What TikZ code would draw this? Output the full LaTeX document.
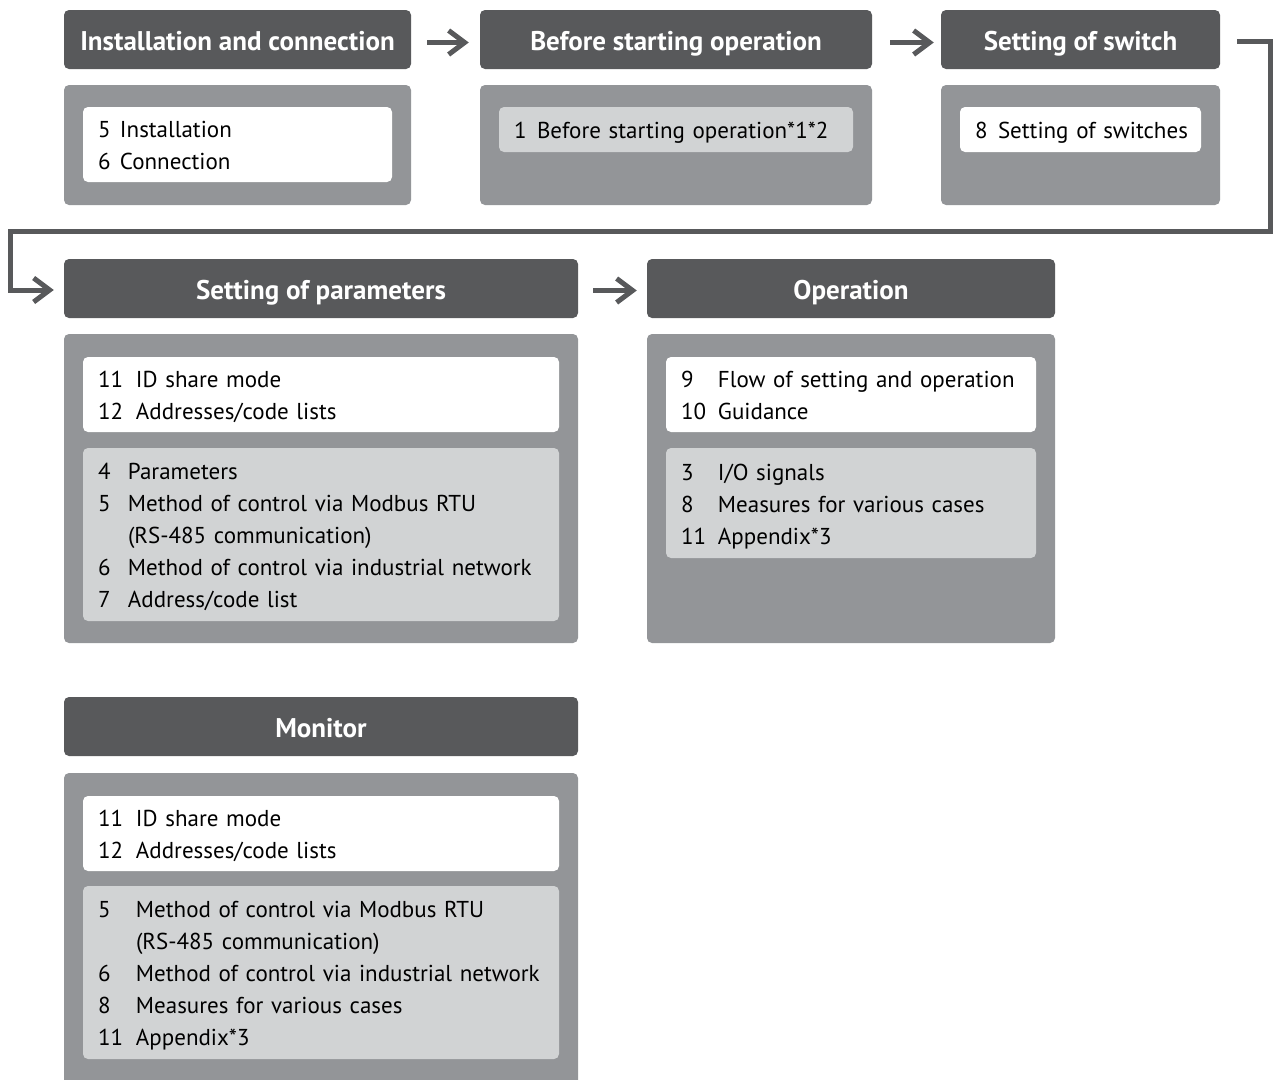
\documentclass[tikz,border=0pt]{standalone}
\usepackage{fontspec}
\setmainfont{PT Sans}
\usetikzlibrary{arrows.meta,positioning}

\definecolor{darkbar}{HTML}{58595B}
\definecolor{midbox}{HTML}{939598}
\definecolor{lightbox}{HTML}{D1D3D4}

\tikzset{
  head/.style={fill=darkbar, rounded corners=5pt, text=white, inner sep=0pt,
    minimum height=59pt, text height=21pt, text depth=0pt,
    font=\fontsize{27}{30}\selectfont\bfseries},
  body/.style={fill=midbox, rounded corners=5pt, inner sep=0pt},
  sheet/.style={rounded corners=5pt, inner xsep=15pt, inner ysep=0pt,
    align=left, text height=18pt, font=\fontsize{23}{32}\selectfont},
  flow/.style={draw=darkbar, line width=5pt, -{Straight Barb[length=16pt,width=24pt]}},
}

\begin{document}
\begin{tikzpicture}[x=1pt,y=-1pt]
\useasboundingbox (0,0) rectangle (1274,1079);

% headers
\node[head, minimum width=347pt] (inst) at (237.5,39.5) {Installation and connection};
\node[head, minimum width=392pt] (before) at (676,39.5) {Before starting operation};
\node[head, minimum width=279pt] (switch) at (1080.5,39.5) {Setting of switch};
\node[head, minimum width=514pt] (param) at (321,288.5) {Setting of parameters};
\node[head, minimum width=408pt] (oper) at (851,288.5) {Operation};
\node[head, minimum width=514pt] (monitor) at (321,726.5) {Monitor};

% grey bodies
\node[body, minimum width=347pt, minimum height=120pt] (instbody) at (237.5,145) {};
\node[body, minimum width=392pt, minimum height=120pt] (beforebody) at (676,145) {};
\node[body, minimum width=279pt, minimum height=120pt] (switchbody) at (1080.5,145) {};
\node[body, minimum width=514pt, minimum height=309pt] (parambody) at (321,488.5) {};
\node[body, minimum width=408pt, minimum height=309pt] (operbody) at (851,488.5) {};
\node[body, minimum width=514pt, minimum height=317pt] (monitorbody) at (321,931.5) {};

% lists
\node[sheet, fill=white, text width=279pt, minimum height=75pt, text depth=32pt] (instlist) at (237.5,144.5)
  {\begin{tabular}[t]{@{}p{22pt}@{}l@{}}5 & Installation\\ 6 & Connection\end{tabular}};
\node[sheet, fill=lightbox, text width=324pt, minimum height=45pt, text depth=0pt] (beforelist) at (676,129.5)
  {\begin{tabular}[t]{@{}p{23pt}@{}l@{}}1 & Before starting operation*1*2\end{tabular}};
\node[sheet, fill=white, text width=211pt, minimum height=45pt, text depth=0pt] (switchlist) at (1080.5,129.5)
  {\begin{tabular}[t]{@{}p{23pt}@{}l@{}}8 & Setting of switches\end{tabular}};

\node[sheet, fill=white, text width=446pt, minimum height=75pt, text depth=32pt] (paramlist) at (321,394.5)
  {\begin{tabular}[t]{@{}p{38pt}@{}l@{}}11 & ID share mode\\ 12 & Addresses/code lists\end{tabular}};
\node[sheet, fill=lightbox, text width=446pt, minimum height=173pt, text depth=128pt] (paramref) at (321,534.5)
  {\begin{tabular}[t]{@{}p{30pt}@{}l@{}}4 & Parameters\\ 5 & Method of control via Modbus RTU\\
   & (RS-485 communication)\\ 6 & Method of control via industrial network\\
   7 & Address/code list\end{tabular}};

\node[sheet, fill=white, text width=340pt, minimum height=75pt, text depth=32pt] (operlist) at (851,394.5)
  {\begin{tabular}[t]{@{}p{37pt}@{}l@{}}9 & Flow of setting and operation\\ 10 & Guidance\end{tabular}};
\node[sheet, fill=lightbox, text width=340pt, minimum height=110pt, text depth=64pt] (operref) at (851,503)
  {\begin{tabular}[t]{@{}p{37pt}@{}l@{}}3 & I/O signals\\ 8 & Measures for various cases\\
   11 & Appendix*3\end{tabular}};

\node[sheet, fill=white, text width=446pt, minimum height=75pt, text depth=32pt] (monitorlist) at (321,833.5)
  {\begin{tabular}[t]{@{}p{38pt}@{}l@{}}11 & ID share mode\\ 12 & Addresses/code lists\end{tabular}};
\node[sheet, fill=lightbox, text width=446pt, minimum height=173pt, text depth=128pt] (monitorref) at (321,972.5)
  {\begin{tabular}[t]{@{}p{38pt}@{}l@{}}5 & Method of control via Modbus RTU\\
   & (RS-485 communication)\\ 6 & Method of control via industrial network\\
   8 & Measures for various cases\\ 11 & Appendix*3\end{tabular}};

% flow arrows
\draw[flow] ([xshift=16pt,yshift=-3pt]inst.east) -- ([xshift=-11pt,yshift=-3pt]before.west);
\draw[flow] ([xshift=18pt,yshift=-3pt]before.east) -- ([xshift=-7pt,yshift=-3pt]switch.west);
\draw[flow] ([xshift=15pt,yshift=-2pt]param.east) -- ([xshift=-10pt,yshift=-2pt]oper.west);

\coordinate (rightturn) at (1270,231.5);
\coordinate (leftturn) at (10.5,231.5);
\draw[flow] ([xshift=17pt,yshift=-1.5pt]switch.east) -| (rightturn) -- (leftturn)
  |- ([xshift=-10pt,yshift=-1.5pt]param.west);
\end{tikzpicture}
\end{document}
